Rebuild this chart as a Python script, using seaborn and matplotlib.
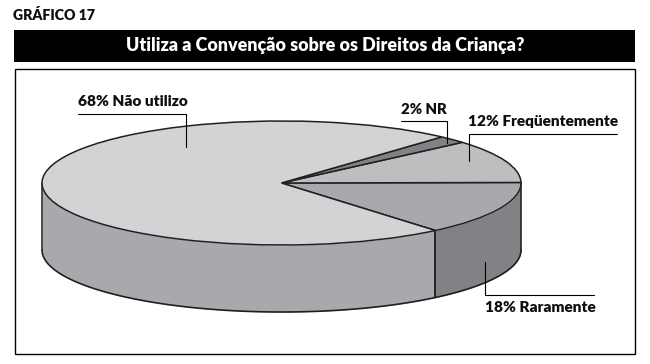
import numpy as np
import matplotlib
matplotlib.use("Agg")
import matplotlib.pyplot as plt
import seaborn as sns

# Data (counter-clockwise from the front right edge of the disc)
categories = ["Raramente", "Freqüentemente", "NR", "Não utilizo"]
percents = [18, 12, 2, 68]
# Angles of the slices as drawn in the picture (degrees on the disc)
drawn_sweep = [50.5, 40.5, 7.0, 262.0]
start_angle = -50
top_colors = ["#a7a9ac", "#bcbec0", "#808285", "#d1d3d4"]
wall_colors = {"Raramente": "#808285", "Não utilizo": "#a7a9ac"}

chart_label = "GRÁFICO 17"
chart_title = "Utiliza a Convenção sobre os Direitos da Criança?"

W, H = 650, 364
sns.set_theme(style="white")
FONT = ["Lato", "Roboto", "DejaVu Sans"]
plt.rcParams["font.family"] = FONT
INK = "#0d0d12"
EDGE = "#231f20"

fig = plt.figure(figsize=(W / 100, H / 100), dpi=100, facecolor="white")

# Overlay in pixel coordinates for frame, bar, labels, leaders
page = fig.add_axes([0, 0, 1, 1], zorder=1)
page.set_xlim(0, W)
page.set_ylim(H, 0)
page.axis("off")
page.patch.set_alpha(0)


def fitted(x, y, s, width, color=INK, ha="left"):
    """Real text whose font size is tuned so it spans the reference width."""
    t = page.text(x, y, s, fontsize=12, fontweight="heavy", color=color, va="center", ha=ha)
    r = fig.canvas.get_renderer()
    t.set_fontsize(12 * width / t.get_window_extent(r).width)
    return t


page.add_patch(plt.Rectangle((14, 30), 621, 32, fc="black", ec="none"))
page.add_patch(plt.Rectangle((14.5, 68.5), 620.5, 285.5, fc="none", ec="black", lw=1.0))
fitted(13, 15.5, chart_label, 82)
fitted(325, 46, chart_title, 396, color="white", ha="center")

# Pie disc: an elliptical axes whose unit circle spans the disc
cx, cy, rx, ry, depth = 281.5, 183, 239.5, 62, 67
ax = fig.add_axes([(cx - rx) / W, 1 - (cy + ry) / H, 2 * rx / W, 2 * ry / H], zorder=0)
ax.pie(drawn_sweep, startangle=start_angle, colors=top_colors, radius=1,
       wedgeprops=dict(edgecolor=EDGE, linewidth=1.1))
ax.set_aspect("auto")
ax.set_xlim(-1, 1)
ax.set_ylim(-1, 1)
for a in ax.patches:
    a.set_clip_on(False)
    a.set_zorder(3)

# Side wall built from the same angles
d = depth / ry
spans = {"Raramente": (-50.0, 0.0), "Não utilizo": (-180.0, -50.0)}
for name, (t0, t1) in spans.items():
    t = np.radians(np.linspace(t0, t1, 120))
    x, y = np.cos(t), np.sin(t)
    top = np.where(y < 0, y, 0)
    ax.fill_between(x, top, top - d, color=wall_colors[name], lw=0, zorder=1, clip_on=False)
    ax.plot(x, top - d, color=EDGE, lw=1.2, zorder=2, clip_on=False, solid_capstyle="round")
    ax.plot([x[0], x[0]], [top[0], top[0] - d], color=EDGE, lw=1.1, zorder=2, clip_on=False)
    ax.plot([x[-1], x[-1]], [top[-1], top[-1] - d], color=EDGE, lw=1.1, zorder=2, clip_on=False)

# Labels with leader lines: name, text x, text y, text width, leader points
labels = [
    ("Não utilizo", 78, 102, 109, [(78, 114), (186, 114), (186, 147)]),
    ("NR", 401, 110, 46, [(401, 121), (447, 121), (447, 143)]),
    ("Freqüentemente", 468, 122, 150, [(617, 134), (469, 134), (469, 161)]),
    ("Raramente", 485, 308, 110, [(485, 262), (485, 295), (594, 295)]),
]
for name, lx, ly, lw_px, pts in labels:
    pct = percents[categories.index(name)]
    fitted(lx, ly, f"{pct}% {name}", lw_px)
    xs, ys = zip(*pts)
    page.plot(xs, ys, color="black", lw=0.8, solid_joinstyle="miter")

fig.savefig("out.png", dpi=100)
